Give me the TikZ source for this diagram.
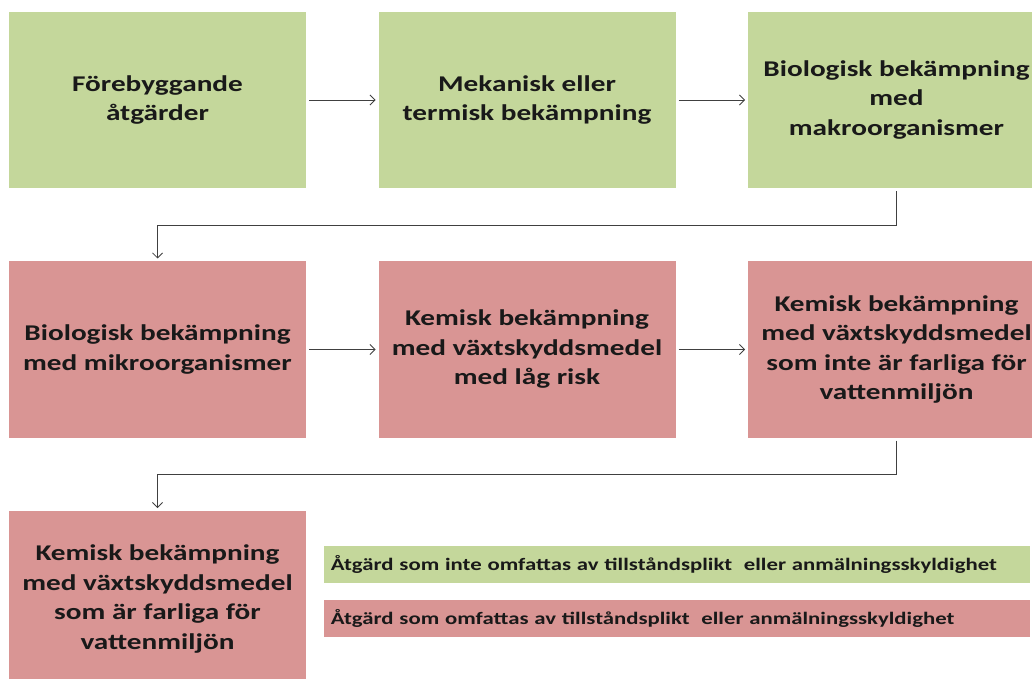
\documentclass[tikz,border=0pt]{standalone}
\usepackage{fontspec}
\setmainfont{Carlito}
\newfontfamily\widefont[FakeStretch=1.3]{Carlito}
\usetikzlibrary{arrows.meta}
\definecolor{boxgreen}{HTML}{C4D79B}
\definecolor{boxred}{HTML}{D99594}
\definecolor{linegray}{HTML}{404040}
\begin{document}
\begin{tikzpicture}[x=1bp,y=-1bp,
  stage/.style={minimum width=297bp,minimum height=176bp,inner sep=0pt,outer sep=3bp,align=center,
    font=\widefont\fontsize{22.5bp}{29.5bp}\selectfont\bfseries,text=black!90},
  gbox/.style={stage,fill=boxgreen},
  rbox/.style={stage,fill=boxred},
  legend/.style={minimum width=706bp,minimum height=37bp,inner sep=0pt,text width=692bp,align=left,
    font=\widefont\fontsize{17.5bp}{21bp}\selectfont\bfseries,text=black!90},
  conn/.style={draw=linegray,line width=0.8bp,-{Straight Barb[length=5bp,width=10bp]}}]
\useasboundingbox (0,0) rectangle (1032,679);
\clip (0,0) rectangle (1032,679);
\node[gbox] (b1) at (157.5,100) {Förebyggande\\åtgärder};
\node[gbox] (b2) at (527,100) {Mekanisk eller\\termisk bekämpning};
\node[gbox] (b3) at (896.5,100) {Biologisk bekämpning\\med\\makroorganismer};
\node[rbox] (b4) at (157.5,349.5) {Biologisk bekämpning\\med mikroorganismer};
\node[rbox] (b5) at (527,349.5) {Kemisk bekämpning\\med växtskyddsmedel\\med låg risk};
\node[rbox] (b6) at (896.5,349.5) {Kemisk bekämpning\\med växtskyddsmedel\\som inte är farliga för\\vattenmiljön};
\node[rbox] (b7) at (157.5,599) {Kemisk bekämpning\\med växtskyddsmedel\\som är farliga för\\vattenmiljön};
\node[legend,fill=boxgreen] (l1) at (677,564.5) {Åtgärd som inte omfattas av tillståndsplikt\ \ eller anmälningsskyldighet};
\node[legend,fill=boxred] (l2) at (677,618.5) {Åtgärd som omfattas av tillståndsplikt\ \ eller anmälningsskyldighet};
\draw[conn] (b1) -- (b2);
\draw[conn] (b2) -- (b3);
\coordinate (c1) at (896.5,225);
\coordinate (c2) at (157.5,225);
\draw[conn] (b3.south) -- (c1) -- (c2) -- (b4.north);
\draw[conn] (b4) -- (b5);
\draw[conn] (b5) -- (b6);
\coordinate (c3) at (896.5,474);
\coordinate (c4) at (157.5,474);
\draw[conn] (b6.south) -- (c3) -- (c4) -- (b7.north);
\end{tikzpicture}
\end{document}
